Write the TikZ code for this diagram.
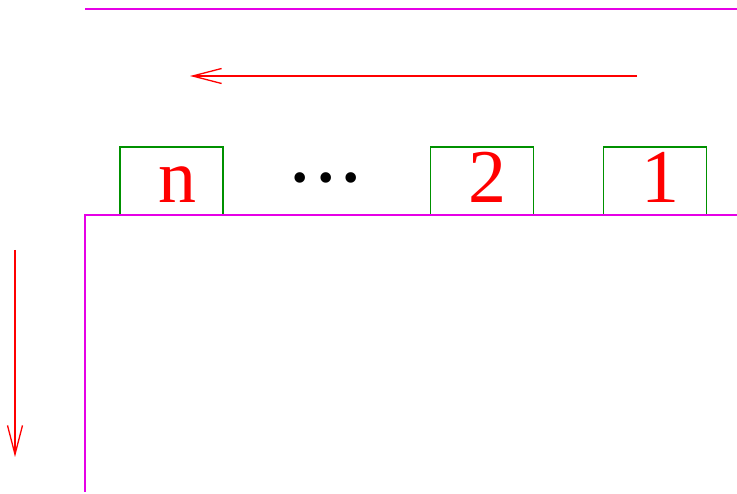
\documentclass[tikz,border=0pt]{standalone}
\usepackage{fontspec}
\setmainfont{Liberation Serif}
\usetikzlibrary{arrows.meta}
\definecolor{boxgreen}{RGB}{0,145,0}
\definecolor{wallmag}{RGB}{230,0,230}
\definecolor{arrred}{RGB}{255,0,0}
\tikzset{
  wall/.style={draw=wallmag, line width=1.3pt},
  cell/.style={draw=boxgreen, line width=1.3pt, minimum width=103pt, minimum height=68pt, inner sep=0pt},
  celltext/.style={text=arrred, font=\fontsize{76}{76}\selectfont, anchor=base, inner sep=0pt},
  dirarrow/.style={draw=arrred, line width=1.3pt, -{Straight Barb[length=29pt,width=15pt,line width=1.3pt]}},
}
\begin{document}
\begin{tikzpicture}[x=1pt,y=-1pt]
\useasboundingbox (0,0) rectangle (737,494);
\coordinate (topL) at (85,9);
\coordinate (topR) at (737,9);
\draw[wall] (topL) -- (topR);
\coordinate (aS) at (637,76);
\coordinate (aE) at (190,76);
\draw[dirarrow] (aS) -- (aE);
\node[cell] (bn) at (171.5,181) {};
\node[cell] (b2) at (482,181) {};
\node[cell] (b1) at (655,181) {};
\node[celltext] (tn) at (177,203) {n};
\node[celltext] (t2) at (487,203) {2};
\node[celltext] (t1) at (660,203) {1};
\node[font=\fontsize{44}{44}\selectfont, inner sep=0pt] (dots) at (326,183) {\textbullet\hspace{10pt}\textbullet\hspace{10pt}\textbullet};
\coordinate (midL) at (85,215);
\coordinate (midR) at (737,215);
\coordinate (botL) at (85,492);
\draw[wall] (midR) -- (midL) -- (botL);
\coordinate (dS) at (15,250);
\coordinate (dE) at (15,457);
\draw[dirarrow] (dS) -- (dE);
\end{tikzpicture}
\end{document}
